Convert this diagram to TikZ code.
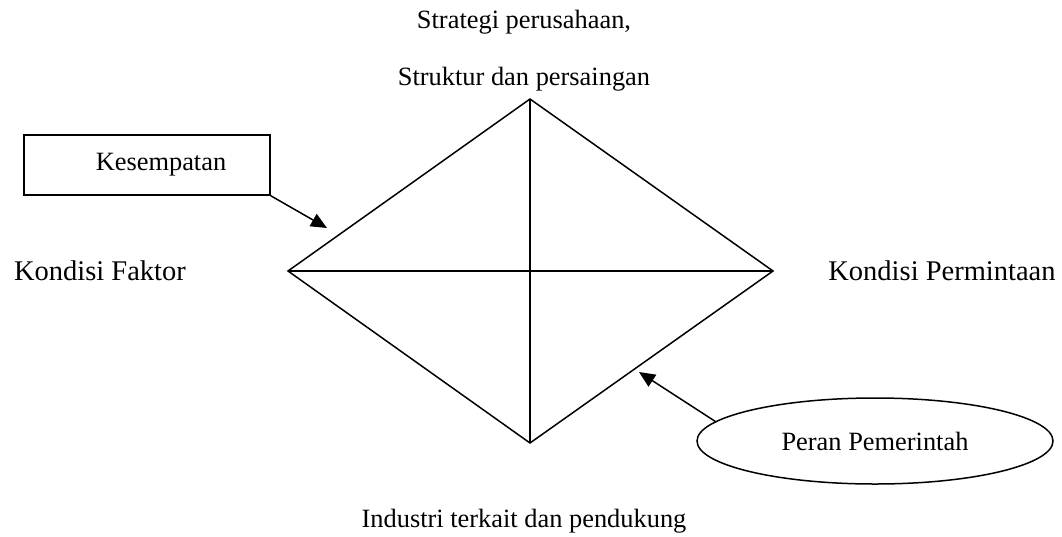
\documentclass[tikz,border=0pt]{standalone}
\usepackage{fontspec}
\setmainfont{Liberation Serif}
\usepackage{tikz}
\usetikzlibrary{shapes.geometric,arrows.meta,positioning,calc}

\begin{document}
\begin{tikzpicture}[
    x=1pt, y=-1pt,
    corner/.style={font=\fontsize{28.5}{32}\selectfont, inner sep=0pt, anchor=base},
    label/.style={font=\fontsize{26.4}{30}\selectfont, inner sep=0pt, anchor=base},
    factor/.style={rectangle, draw, line width=1.5pt, minimum width=246pt, minimum height=60pt, font=\fontsize{26.4}{30}\selectfont, inner sep=0pt},
    role/.style={ellipse, draw, line width=1.5pt, minimum width=356pt, minimum height=86pt, font=\fontsize{26.4}{30}\selectfont, inner sep=0pt},
    edge/.style={line width=1.5pt},
    arrow/.style={-{Triangle[length=16pt,width=14pt]}, line width=1.5pt}
]
    \useasboundingbox (0,0) rectangle (1062,536);

    % Diamond
    \coordinate (top) at (530,99);
    \coordinate (left) at (288,271);
    \coordinate (right) at (773,271);
    \coordinate (bottom) at (530,443);
    \draw[edge] (top) -- (right) -- (bottom) -- (left) -- cycle;
    \draw[edge] (left) -- (right);
    \draw[edge] (top) -- (bottom);

    % Labels
    \node[label] (strategi) at (524,28) {Strategi perusahaan,};
    \node[label] (struktur) at (524,85) {Struktur dan persaingan};
    \node[corner] (faktor) at (100,280) {Kondisi Faktor};
    \node[corner] (permintaan) at (942,280) {Kondisi Permintaan};
    \node[label] (industri) at (524,527) {Industri terkait dan pendukung};

    % Components
    \node[factor] (kesempatan) at (147,165) {\hspace*{28pt}Kesempatan};
    \node[role] (pemerintah) at (875,441) {Peran Pemerintah};

    % Arrows
    \coordinate (kestip) at (327,228);
    \coordinate (pertip) at (639,372);
    \draw[arrow] (kesempatan.south east) -- (kestip);
    \draw[arrow] (pemerintah.173) -- (pertip);
\end{tikzpicture}
\end{document}
